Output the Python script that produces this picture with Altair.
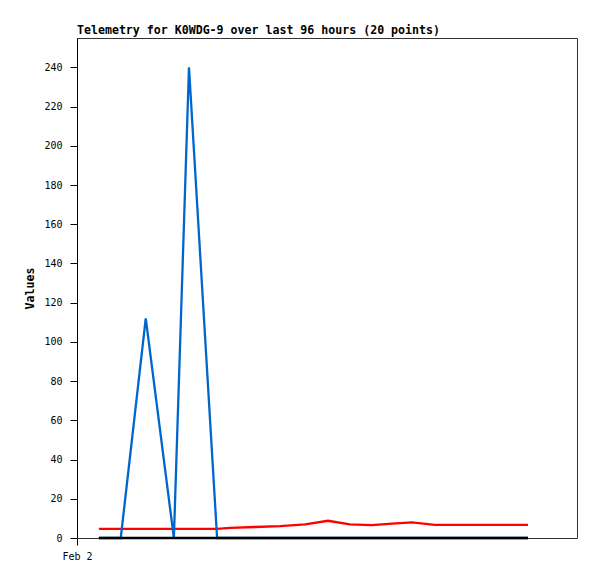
import altair as alt
import pandas as pd

times = ["2024-02-02T04:12", "2024-02-02T08:24", "2024-02-02T13:12", "2024-02-02T18:36",
         "2024-02-02T21:30", "2024-02-03T02:54", "2024-02-03T05:24", "2024-02-03T10:12",
         "2024-02-03T15:00", "2024-02-03T19:48", "2024-02-04T00:12", "2024-02-04T04:24",
         "2024-02-04T08:36", "2024-02-04T12:30", "2024-02-04T16:18", "2024-02-04T20:42",
         "2024-02-05T01:30", "2024-02-05T06:18", "2024-02-05T10:12", "2024-02-05T14:36"]
blue_vals = [0, 0, 112, 0, 240, 0, 0, 0, 0, 0, 0, 0, 0, 0, 0, 0, 0, 0, 0, 0]
red_vals = [4.7, 4.7, 4.7, 4.7, 4.7, 4.7, 5.2, 5.6, 6.1, 7.0, 8.8, 7.0, 6.6, 7.3, 8.0,
            6.7, 6.7, 6.7, 6.7, 6.7]
black_vals = [0] * 20

series_names = ["red", "blue", "black"]
series_colors = ["#ff0000", "#0066cc", "#000000"]
series_widths = [2.3, 2.3, 2.6]

rows = []
for name, vals in zip(series_names, [red_vals, blue_vals, black_vals]):
    for i, (t, v) in enumerate(zip(times, vals)):
        rows.append({"time": t, "value": v, "series": name, "order": i})
df = pd.DataFrame(rows)

x_enc = alt.X(
    "time:T",
    scale=alt.Scale(domain=[alt.DateTime(year=2024, month=2, date=2),
                            alt.DateTime(year=2024, month=2, date=6)]),
    axis=alt.Axis(
        title=None,
        values=[alt.DateTime(year=2024, month=2, date=2)],
        format="%b %-d",
        grid=False,
        domain=False,
        tickSize=7,
        tickColor="#000000",
        labelFont="DejaVu Sans Mono",
        labelFontSize=10,
        labelColor="#000000",
        labelPadding=6,
        labelAlign="center",
        labelFlush=False,
    ),
)
y_enc = alt.Y(
    "value:Q",
    scale=alt.Scale(domain=[0, 255], nice=False, zero=True),
    axis=alt.Axis(
        title="Values",
        values=list(range(0, 241, 20)),
        grid=False,
        domainColor="#000000",
        tickColor="#000000",
        tickSize=7,
        labelFont="DejaVu Sans Mono",
        labelFontSize=10,
        labelColor="#000000",
        labelPadding=8,
        titleFont="DejaVu Sans Mono",
        titleFontSize=11.6,
        titleFontWeight="bold",
        titleColor="#000000",
        titlePadding=8,
    ),
)

layers = []
for name, color, w in zip(series_names, series_colors, series_widths):
    layers.append(
        alt.Chart(df[df["series"] == name]).mark_line(
            color=color, strokeWidth=w, interpolate="linear"
        ).encode(x=x_enc, y=y_enc, order="order:Q")
    )

chart = alt.layer(*layers).properties(
    width=500,
    height=500,
    background="#ffffff",
    title=alt.TitleParams(
        "Telemetry for K0WDG-9 over last 96 hours (20 points)",
        anchor="start",
        font="DejaVu Sans Mono",
        fontSize=11.6,
        fontWeight="bold",
        color="#000000",
        offset=1,
        frame="group",
    ),
    autosize=alt.AutoSizeParams(type="none"),
    padding={"left": 69, "top": 30, "right": 10, "bottom": 30},
).configure_view(stroke="#333333", strokeWidth=1)

chart.save("out.html", embed_options={"renderer": "svg", "actions": False})
